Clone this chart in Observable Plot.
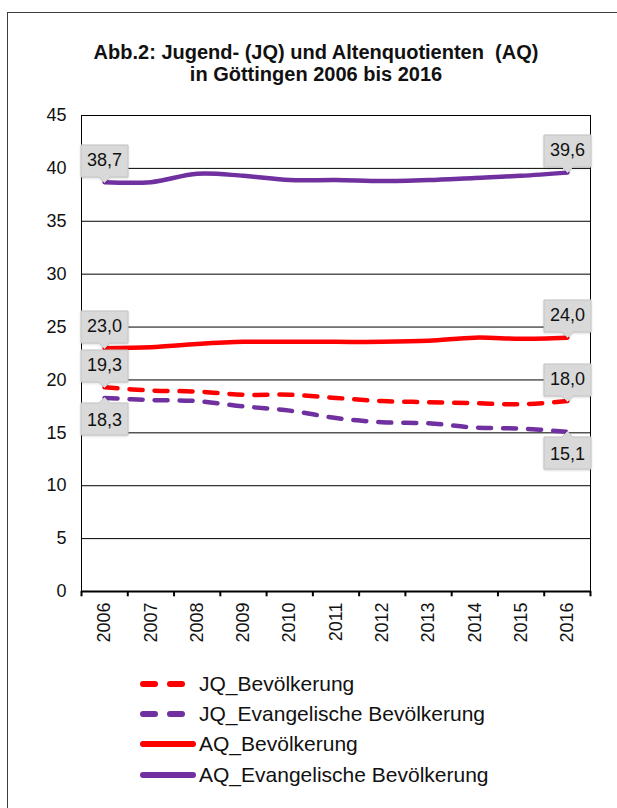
<!DOCTYPE html>
<html>
<head>
<meta charset="utf-8">
<script src="https://cdn.jsdelivr.net/npm/d3@7"></script>
<script src="https://cdn.jsdelivr.net/npm/@observablehq/plot@0.6"></script>
<style>
  html, body { margin: 0; padding: 0; background: #fff; }
  body { width: 617px; height: 808px; overflow: hidden; position: relative;
         font-family: "Liberation Sans", Arial, sans-serif; color: #111; }
  #outer { position: absolute; left: 7px; top: 12px; width: 720px; height: 900px;
           border: 1.5px solid #3c3c3c; box-sizing: border-box; }
  .title { position: absolute; left: 0; width: 632px; text-align: center;
           font-weight: bold; font-size: 20px; line-height: 21px; white-space: pre; }
  #chart { position: absolute; left: 0; top: 95px; }
  .leg { position: absolute; left: 138px; height: 26px; display: flex; align-items: center;
         font-size: 21px; white-space: nowrap; }
  .leg svg { display: block; }
</style>
</head>
<body>
<div id="outer"></div>
<div class="title" style="top:42px">Abb.2: Jugend- (JQ) und Altenquotienten  (AQ)</div>
<div class="title" style="top:64px">in Göttingen 2006 bis 2016</div>
<div id="chart"></div>
<div id="legend"></div>
<script>
// ---- data ----
const years = [2006, 2007, 2008, 2009, 2010, 2011, 2012, 2013, 2014, 2015, 2016];
const jqBevoelkerung = [19.3, 19.0, 18.9, 18.6, 18.6, 18.3, 18.0, 17.9, 17.8, 17.7, 18.0];
const jqEvangelisch  = [18.3, 18.1, 18.0, 17.5, 17.1, 16.4, 16.0, 15.9, 15.5, 15.4, 15.1];
const aqBevoelkerung = [23.0, 23.1, 23.4, 23.6, 23.6, 23.6, 23.6, 23.7, 24.0, 23.9, 24.0];
const aqEvangelisch  = [38.7, 38.7, 39.5, 39.3, 38.9, 38.9, 38.8, 38.9, 39.1, 39.3, 39.6];
const seriesNames = ["JQ_Bevölkerung", "JQ_Evangelische Bevölkerung", "AQ_Bevölkerung", "AQ_Evangelische Bevölkerung"];
const yTicks = [0, 5, 10, 15, 20, 25, 30, 35, 40, 45];

// ---- styles ----
const RED = "#ff0000", PURPLE = "#7030a0";
const seriesStyle = [
  {values: jqBevoelkerung, color: RED, dashed: true,  first: "bottom", last: "bottom"},
  {values: jqEvangelisch,  color: PURPLE, dashed: true, first: "top", last: "top"},
  {values: aqBevoelkerung, color: RED, dashed: false, first: "bottom", last: "bottom"},
  {values: aqEvangelisch,  color: PURPLE, dashed: false, first: "bottom", last: "bottom"}
];
const fmt = v => v.toFixed(1).replace(".", ",");
const boundaries = [...years.map(y => y - 0.5), years[years.length - 1] + 0.5];

const marks = [];
marks.push(Plot.ruleY(yTicks, {stroke: "#000", strokeWidth: 1}));
marks.push(Plot.frame({stroke: "#000", strokeWidth: 1}));
marks.push(Plot.ruleY([0], {stroke: "#000", strokeWidth: 2}));
marks.push(Plot.ruleX(boundaries, {x: d => d, y1: 0, y2: -0.5, stroke: "#000", strokeWidth: 2}));
marks.push(Plot.axisY(yTicks, {tickSize: 0, tickPadding: 15, fontSize: 18, label: null, tickFormat: d => String(d)}));
marks.push(Plot.axisX(years, {tickSize: 0, tickPadding: 11, tickRotate: -90, fontSize: 18, label: null, tickFormat: d => String(d)}));

seriesNames.forEach((name, k) => {
  const s = seriesStyle[k];
  const data = years.map((yr, i) => ({year: yr, value: s.values[i], series: name}));
  marks.push(Plot.line(data, {
    x: "year", y: "value", stroke: s.color, strokeWidth: 4.5,
    strokeLinecap: "round", strokeLinejoin: "round",
    strokeDasharray: s.dashed ? "13,12" : null,
    curve: "catmull-rom"
  }));
});
seriesNames.forEach((name, k) => {
  const s = seriesStyle[k];
  const n = years.length - 1;
  const ends = [
    {year: years[0], value: s.values[0], anchor: s.first},
    {year: years[n], value: s.values[n], anchor: s.last}
  ];
  ends.forEach(e => {
    marks.push(Plot.tip([e], {
      x: "year", y: "value", title: d => fmt(d.value),
      anchor: e.anchor, fill: "#d9d9d9", stroke: "#c4c4c4", strokeWidth: 1,
      fontSize: 18, textPadding: 6, pointerSize: 11,
      pathFilter: "drop-shadow(0 1px 1px rgba(0,0,0,0.15))"
    }));
  });
});

const chart = Plot.plot({
  width: 617,
  height: 565,
  marginTop: 20,
  marginBottom: 69,
  marginLeft: 81,
  marginRight: 27,
  style: {fontFamily: "Liberation Sans, Arial, sans-serif", fontSize: "18px", color: "#111", background: "transparent", overflow: "visible"},
  x: {type: "linear", domain: [boundaries[0], boundaries[boundaries.length - 1]]},
  y: {domain: [0, 45]},
  marks
});
document.getElementById("chart").appendChild(chart);

// ---- legend ----
const legendTops = [671, 701, 731, 762];
const legend = document.getElementById("legend");
seriesNames.forEach((name, k) => {
  const s = seriesStyle[k];
  const row = document.createElement("div");
  row.className = "leg";
  row.style.top = legendTops[k] + "px";
  const ns = "http://www.w3.org/2000/svg";
  const sw = document.createElementNS(ns, "svg");
  sw.setAttribute("width", "61"); sw.setAttribute("height", "12");
  const ln = document.createElementNS(ns, "line");
  ln.setAttribute("x1", "5"); ln.setAttribute("y1", "6");
  ln.setAttribute("x2", s.dashed ? "47" : "55"); ln.setAttribute("y2", "6");
  ln.setAttribute("stroke", s.color); ln.setAttribute("stroke-width", "6");
  ln.setAttribute("stroke-linecap", "round");
  if (s.dashed) ln.setAttribute("stroke-dasharray", "12,15");
  sw.appendChild(ln);
  row.appendChild(sw);
  const t = document.createElement("span");
  t.textContent = (s.dashed ? " " : "") + name;
  row.appendChild(t);
  legend.appendChild(row);
});
</script>
</body>
</html>
